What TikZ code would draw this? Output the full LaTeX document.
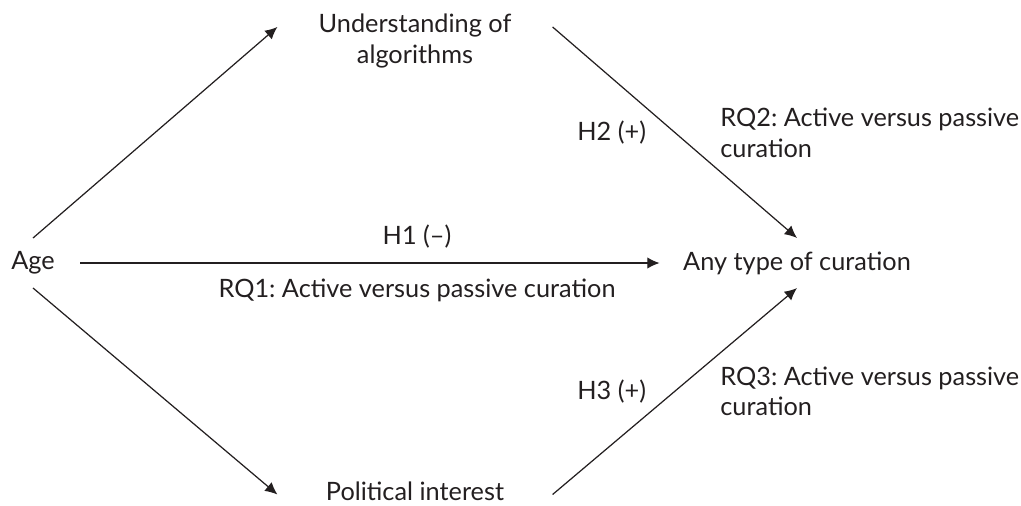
\documentclass[tikz,border=0pt]{standalone}
\usepackage{fontspec}
\setmainfont{Lato}
\frenchspacing
\usepackage{tikz}
\usetikzlibrary{
  arrows.meta,
  positioning,
  calc
}
\definecolor{ink}{RGB}{35,31,32}
\tikzset{>={Latex[length=7pt,width=6.5pt]}}
\tikzset{font=\fontsize{14.4}{17.6}\selectfont}
\tikzset{var/.style={inner sep=7.4pt},
  topic/.style={align=center, minimum width=155.9pt, inner sep=0pt},
  lbl/.style={inner sep=0pt, align=left}}

\begin{document}
\begin{tikzpicture}[x=0.02cm, y=-0.02cm, color=ink, line width=0.7pt]
          \useasboundingbox (0,0) rectangle (1021,505);
          \node[var] (age) at (33,263) {Age};
          \node[var] (curation) at (797,263) {Any type of curation};
          \node[topic] (algo) at (415,41) {Understanding of\\algorithms};
          \node[topic] (interest) at (415,491) {Political interest};
          \draw[->] (age.north) -- ([yshift=8pt]algo.west);
          \draw[->] (age.south) -- ([yshift=-2pt]interest.west);
          \draw[->, shorten <=6.8pt, shorten >=5.7pt] (age.east) -- node[lbl, pos=0.58, above=8pt] (h1) {H1 (–)} node[lbl, pos=0.58, below=8.8pt] (rq1) {RQ1: Active versus passive curation} (curation.west);
          \draw[->] ([yshift=8pt]algo.east) -- node[lbl, pos=0.5, left=16pt] (h2) {H2 (+)} node[lbl, pos=0.5, right=25.6pt] (rq2) {RQ2: Active versus passive\\curation} (curation.north);
          \draw[->] ([yshift=-2pt]interest.east) -- node[lbl, pos=0.5, left=16pt] (h3) {H3 (+)} node[lbl, pos=0.5, right=25.6pt] (rq3) {RQ3: Active versus passive\\curation} (curation.south);
        \end{tikzpicture}
\end{document}
